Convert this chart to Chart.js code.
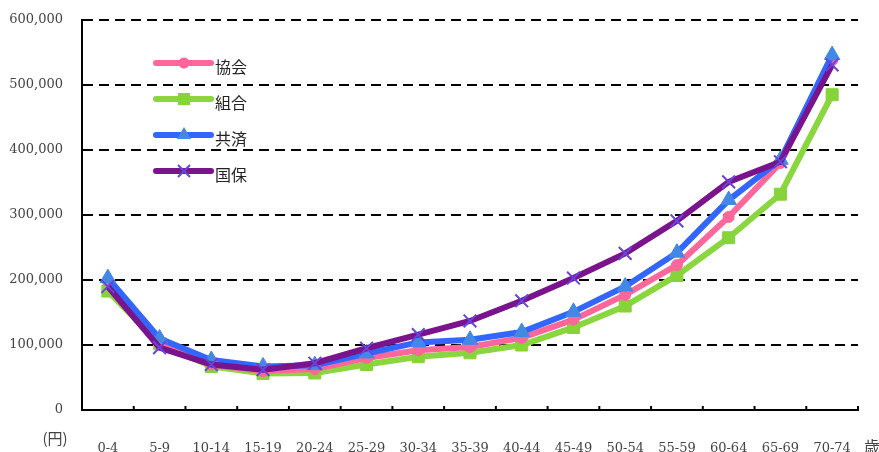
<!DOCTYPE html>
<html>
<head>
<meta charset="utf-8">
<script src="https://cdn.jsdelivr.net/npm/chart.js@4/dist/chart.umd.min.js"></script>
<style>
  html, body { margin: 0; padding: 0; background: #fff; }
  #wrap { width: 879px; height: 452px; }
</style>
</head>
<body>
<div id="wrap"><canvas id="linechart"></canvas></div>
<script>
var ages = ['0-4', '5-9', '10-14', '15-19', '20-24', '25-29', '30-34', '35-39', '40-44', '45-49', '50-54', '55-59', '60-64', '65-69', '70-74']
var seriesNames = ['協会', '組合', '共済', '国保']
var kyokai = [198000, 101000, 70000, 60000, 63000, 80000, 92000, 97000, 111000, 139000, 177000, 223000, 297000, 380000, 538000]
var kumiai = [183000, 102000, 67000, 56000, 57000, 70000, 82000, 88000, 100000, 127000, 160000, 207000, 265000, 332000, 485000]
var kyosai = [203000, 110000, 77000, 67000, 69000, 87000, 104000, 108000, 120000, 151000, 190000, 242000, 323000, 385000, 546000]
var kokuho = [190000, 96000, 70000, 62000, 72000, 95000, 116000, 137000, 168000, 203000, 241000, 291000, 351000, 382000, 531000]
var yTicks = [0, 100000, 200000, 300000, 400000, 500000, 600000]
var unitLabel = '(円)'
var ageLabel = '歳'

var serif = "'DejaVu Serif', 'Noto Sans CJK JP', serif"
var cjk = "'Noto Sans CJK JP', sans-serif"

// draws the legend inside the plot, the unit labels and the inward x ticks
var extras = {
    id: 'extras',
    afterDraw: function (chart) {
        var ctx = chart.ctx
        var area = chart.chartArea
        var xs = chart.scales.x
        ctx.save()

        // small ticks on the x axis, pointing up
        ctx.strokeStyle = '#000'
        ctx.lineWidth = 2
        var half = (xs.getPixelForValue(1) - xs.getPixelForValue(0)) / 2
        for (var i = 1; i < ages.length; i++) {
            var px = xs.getPixelForValue(i) - half
            ctx.beginPath()
            ctx.moveTo(px, area.bottom)
            ctx.lineTo(px, area.bottom - 4)
            ctx.stroke()
        }
        ctx.beginPath()
        ctx.moveTo(area.right, area.bottom)
        ctx.lineTo(area.right, area.bottom - 4)
        ctx.stroke()

        // legend
        chart.data.datasets.forEach(function (ds, k) {
            var y = 63 + k * 36
            ctx.strokeStyle = ds.borderColor
            ctx.lineWidth = 6
            ctx.lineCap = 'round'
            ctx.beginPath()
            ctx.moveTo(156, y)
            ctx.lineTo(211, y)
            ctx.stroke()
            drawMarker(ctx, ds.pointStyle, 184, y, ds.pointBackgroundColor, ds.pointBorderColor)
            ctx.fillStyle = '#222'
            ctx.font = '16px ' + cjk
            ctx.textAlign = 'left'
            ctx.textBaseline = 'middle'
            ctx.fillText(ds.label, 215, y + 4)
        })

        ctx.fillStyle = '#444'
        ctx.font = '15px ' + cjk
        ctx.textAlign = 'center'
        ctx.textBaseline = 'middle'
        ctx.fillText(unitLabel, 55, 438)
        ctx.font = '16px ' + cjk
        ctx.fillText(ageLabel, 872, 447)
        ctx.restore()
    }
}

function drawMarker(ctx, style, x, y, fill, stroke) {
    ctx.save()
    ctx.fillStyle = fill
    ctx.strokeStyle = stroke
    ctx.lineCap = 'butt'
    ctx.beginPath()
    if (style === 'circle') {
        ctx.arc(x, y, 5.5, 0, Math.PI * 2)
        ctx.fill()
    } else if (style === 'rect') {
        ctx.fillRect(x - 6, y - 6, 12, 12)
    } else if (style === 'triangle') {
        ctx.moveTo(x, y - 8)
        ctx.lineTo(x + 7, y + 4)
        ctx.lineTo(x - 7, y + 4)
        ctx.closePath()
        ctx.fill()
    } else {
        ctx.lineWidth = 2
        ctx.moveTo(x - 6, y - 6)
        ctx.lineTo(x + 6, y + 6)
        ctx.moveTo(x + 6, y - 6)
        ctx.lineTo(x - 6, y + 6)
        ctx.stroke()
    }
    ctx.restore()
}

var chart1 = document.getElementById('linechart')

var myChart1 = new Chart(chart1, {
type: 'line',
data: {
    labels: ages,
    datasets: [{
            label: seriesNames[0],
            data: kyokai,
            borderColor: 'rgb(255, 102, 153)',
            pointBackgroundColor: 'rgb(255, 102, 153)',
            pointBorderColor: 'rgb(255, 102, 153)',
            pointStyle: 'circle',
            pointRadius: 5.5,
            order: 3,
        }, {
            label: seriesNames[1],
            data: kumiai,
            borderColor: 'rgb(138, 214, 62)',
            pointBackgroundColor: 'rgb(134, 212, 58)',
            pointBorderColor: 'rgb(134, 212, 58)',
            pointStyle: 'rect',
            pointRadius: 8.5,
            order: 4,
        }, {
            label: seriesNames[2],
            data: kyosai,
            borderColor: 'rgb(51, 102, 255)',
            pointBackgroundColor: 'rgb(68, 136, 230)',
            pointBorderColor: 'rgb(68, 136, 230)',
            pointStyle: 'triangle',
            pointRadius: 9,
            order: 2,
        }, {
            label: seriesNames[3],
            data: kokuho,
            borderColor: 'rgb(122, 20, 140)',
            pointBackgroundColor: 'rgb(102, 68, 221)',
            pointBorderColor: 'rgb(102, 68, 221)',
            pointStyle: 'crossRot',
            pointRadius: 9,
            pointBorderWidth: 2,
            order: 1,
        }]
},
options: {
    responsive: true,
    maintainAspectRatio: false,
    animation: false,
    elements: {
        line: { borderWidth: 6, tension: 0 },
        point: { borderWidth: 1 },
    },
    layout: {
        padding: { top: 20, right: 21, left: 0, bottom: 0 },
    },
    plugins: {
        legend: { display: false },
        tooltip: { enabled: false },
        title: { display: false },
    },
    scales: {
        x: {
            offset: true,
            afterFit: function (s) { s.height = 42 },
            grid: { display: true, drawOnChartArea: false, drawTicks: true, tickLength: 31, color: 'rgba(0,0,0,0)', tickColor: 'rgba(0,0,0,0)' },
            border: { display: true, color: '#000', width: 2 },
            ticks: {
                padding: 0,
                color: '#444',
                font: { family: serif, size: 13 },
                maxRotation: 0,
                autoSkip: false,
            },
        },
        y: {
            min: 0,
            max: 600000,
            afterFit: function (s) { s.width = 82 },
            afterBuildTicks: function (s) { s.ticks = yTicks.map(function (v) { return { value: v } }) },
            grid: { color: '#000', lineWidth: 2, drawTicks: true, tickLength: 19, tickColor: 'rgba(0,0,0,0)' },
            border: { display: true, color: '#000', width: 2, dash: [10, 6] },
            ticks: {
                padding: 0,
                color: '#444',
                font: { family: serif, size: 13 },
                callback: function (v) { return v.toLocaleString('en-US') },
            },
        },
    },
},
plugins: [extras]
});
</script>
</body>
</html>
